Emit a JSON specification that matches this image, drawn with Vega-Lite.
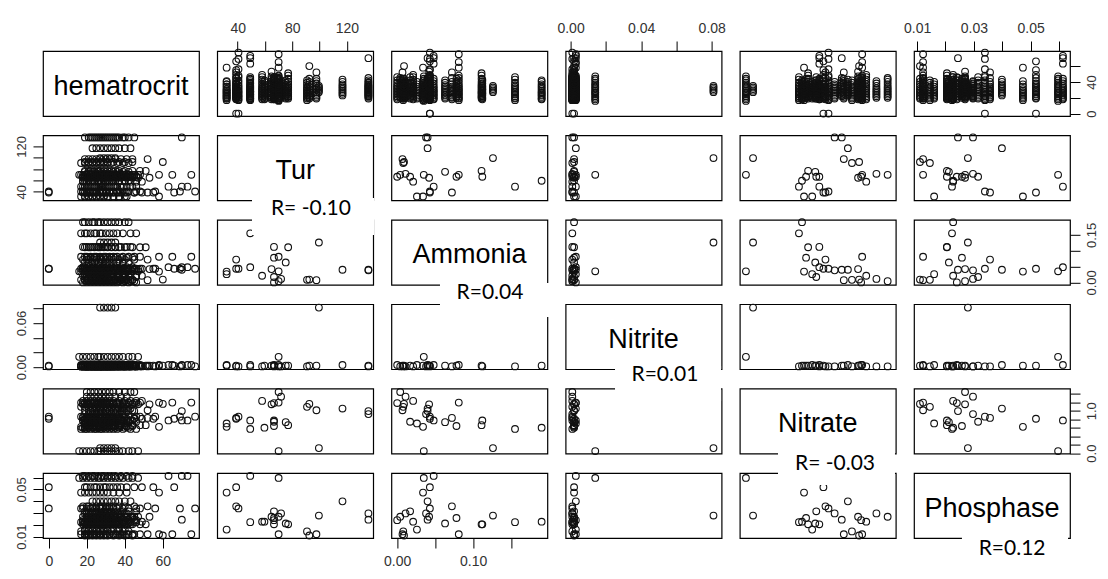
{
"$schema": "https://vega.github.io/schema/vega-lite/v6.json",
"background": "white",
"padding": {"left": 14, "top": 20, "right": 5, "bottom": 5},
"datasets": {"d": [
{"t":59.6,"a":0.190,"n":0.002,"o":0.60,"p":0.0227,"h":[18,19,21,23,24,26,27,29,31,33,35,37,40,42]},
{"t":49.2,"a":0.155,"n":0.001,"o":0.57,"p":0.0223,"h":[17,19,20,22,24,25,27,28,30,32,34,36,39,43,46]},
{"t":99.5,"a":0.126,"n":0.081,"o":0.12,"p":0.0279,"h":[27,29,31,33,35]},
{"t":77.0,"a":0.111,"n":0.002,"o":0.66,"p":0.0205,"h":[19,21,22,24,26,27,29,31,33,35,37,40,44,48,51]},
{"t":66.6,"a":0.112,"n":0.001,"o":0.77,"p":0.0205,"h":[18,20,23,25,26,28,30,31,33,35,38,41,43]},
{"t":70.0,"a":0.081,"n":0.003,"o":1.19,"p":0.0121,"h":[17,19,20,22,24,25,27,29,30,32,34,36,39,42,45,48,58,65,75]},
{"t":66.6,"a":0.078,"n":0.002,"o":0.64,"p":0.0258,"h":[20,22,24,25,27,29,31,33,35,38,41,44]},
{"t":38.9,"a":0.072,"n":0.001,"o":0.83,"p":0.0357,"h":[18,20,21,23,25,27,28,30,32,34,37,40,45,52]},
{"t":75.2,"a":0.063,"n":0.002,"o":0.73,"p":0.0212,"h":[19,21,23,24,26,28,30,32,34,36,39,42]},
{"t":49.2,"a":0.048,"n":0.003,"o":0.77,"p":0.0614,"h":[18,19,21,23,24,26,28,29,31,33,35,38,41,44,63,70,73]},
{"t":38.9,"a":0.043,"n":0.002,"o":0.81,"p":0.0519,"h":[0,19,20,22,24,25,27,29,30,32,34,36,38,41,45,49,55,66]},
{"t":40.6,"a":0.043,"n":0.001,"o":0.86,"p":0.0339,"h":[0,17,18,20,22,23,25,27,28,30,32,34,36,39,42,46,48,56,69,77]},
{"t":135.8,"a":0.040,"n":0.002,"o":0.99,"p":0.0244,"h":[22,24,26,28,30,32,34,36,39,42,45,70]},
{"t":116.8,"a":0.040,"n":0.003,"o":1.05,"p":0.0399,"h":[23,25,27,29,31,33,35,37,40,43]},
{"t":64.8,"a":0.042,"n":0.002,"o":1.15,"p":0.0269,"h":[18,20,21,23,25,26,28,30,32,34,36,38,41,44,47,53]},
{"t":135.8,"a":0.038,"n":0.001,"o":0.92,"p":0.0297,"h":[19,21,23,25,27,29,31,33,35,37,40]},
{"t":70.0,"a":0.035,"n":0.014,"o":0.05,"p":0.0597,"h":[16,18,20,22,24,26,27,29,31,33,35,37,39,42,44,47]},
{"t":31.9,"a":0.034,"n":0.002,"o":0.62,"p":0.0473,"h":[17,19,21,23,25,27,29,31,34,37,41,58]},
{"t":31.9,"a":0.026,"n":0.003,"o":0.70,"p":0.0160,"h":[19,21,23,25,27,29,31,34,37,40]},
{"t":57.9,"a":0.021,"n":0.001,"o":1.23,"p":0.0227,"h":[18,20,22,24,26,28,30,32,34,37,40,43,46,49]},
{"t":66.6,"a":0.017,"n":0.002,"o":0.74,"p":0.0315,"h":[19,21,23,25,27,29,31,33,36,39,42,46]},
{"t":71.8,"a":0.011,"n":0.001,"o":1.33,"p":0.0297,"h":[20,22,24,26,28,30,32,35,38,41]},
{"t":97.7,"a":0.007,"n":0.002,"o":1.01,"p":0.0121,"h":[19,21,23,25,27,30,32,35,38,41,44,52]},
{"t":90.8,"a":0.008,"n":0.001,"o":1.09,"p":0.0145,"h":[17,19,21,23,25,27,29,31,33,36,39,42]},
{"t":66.6,"a":0.000,"n":0.003,"o":1.18,"p":0.0240,"h":[18,20,22,24,26,28,30,32,34,36,39,42,46]},
{"t":70.0,"a":0.004,"n":0.001,"o":1.44,"p":0.0269,"h":[20,22,24,26,28,30,32,34,37,40,43,45]},
{"t":92.5,"a":0.009,"n":0.002,"o":1.16,"p":0.0110,"h":[19,21,23,25,27,29,31,34,37,40,44,60]}
]},
"columns": 6,
"spacing": {"row": 19.4, "column": 18.2},
"bounds": "flush",
"concat": [
{"width":156,"height":65,"data":{"values":[{"v":"hematrocrit"}]},"mark":{"type":"text","font":"Liberation Sans","fontSize":27,"color":"#000","dy":3},"encoding":{"x":{"datum":0.5,"type":"quantitative","scale":{"domain":[0,1],"nice":false,"zero":false},"axis":null},"y":{"datum":0.5,"type":"quantitative","scale":{"domain":[0,1],"nice":false,"zero":false},"axis":null},"text":{"field":"v"}}},
{"width":156,"height":65,"data":{"name":"d"},"transform":[{"flatten":["h"]}],"mark":"point","encoding":{"x":{"field":"t","type":"quantitative","scale":{"domain":[25,139.3],"nice":false,"zero":false},"axis":{"orient":"top","title":null,"values":[40,60,80,100,120],"labelExpr":"indexof([40,80,120],datum.value)>=0?datum.label:''"}},"y":{"field":"h","type":"quantitative","scale":{"domain":[-3.04,79.04],"nice":false,"zero":false},"axis":null}}},
{"width":156,"height":65,"data":{"name":"d"},"transform":[{"flatten":["h"]}],"mark":"point","encoding":{"x":{"field":"a","type":"quantitative","scale":{"domain":[-0.0076,0.1976],"nice":false,"zero":false},"axis":null},"y":{"field":"h","type":"quantitative","scale":{"domain":[-3.04,79.04],"nice":false,"zero":false},"axis":null}}},
{"width":156,"height":65,"data":{"name":"d"},"transform":[{"flatten":["h"]}],"mark":"point","encoding":{"x":{"field":"n","type":"quantitative","scale":{"domain":[-0.0028,0.0856],"nice":false,"zero":false},"axis":{"orient":"top","title":null,"format":".2f","values":[0,0.02,0.04,0.06,0.08],"labelExpr":"indexof([0,0.04,0.08],datum.value)>=0?datum.label:''"}},"y":{"field":"h","type":"quantitative","scale":{"domain":[-3.04,79.04],"nice":false,"zero":false},"axis":null}}},
{"width":156,"height":65,"data":{"name":"d"},"transform":[{"flatten":["h"]}],"mark":"point","encoding":{"x":{"field":"o","type":"quantitative","scale":{"domain":[-0.01,1.52],"nice":false,"zero":false},"axis":null},"y":{"field":"h","type":"quantitative","scale":{"domain":[-3.04,79.04],"nice":false,"zero":false},"axis":null}}},
{"width":156,"height":65,"data":{"name":"d"},"transform":[{"flatten":["h"]}],"mark":"point","encoding":{"x":{"field":"p","type":"quantitative","scale":{"domain":[0.0089,0.0639],"nice":false,"zero":false},"axis":{"orient":"top","title":null,"format":".2f","values":[0.01,0.02,0.03,0.04,0.05,0.06],"labelExpr":"indexof([0.01,0.03,0.05],datum.value)>=0?datum.label:''"}},"y":{"field":"h","type":"quantitative","scale":{"domain":[-3.04,79.04],"nice":false,"zero":false},"axis":{"orient":"right","title":null,"values":[0,20,40,60],"labelExpr":"indexof([0,40],datum.value)>=0?datum.label:''"}}}},

{"width":156,"height":65,"data":{"name":"d"},"transform":[{"flatten":["h"]}],"mark":"point","encoding":{"x":{"field":"h","type":"quantitative","scale":{"domain":[-3.04,79.04],"nice":false,"zero":false},"axis":null},"y":{"field":"t","type":"quantitative","scale":{"domain":[25,139.3],"nice":false,"zero":false},"axis":{"orient":"left","title":null,"values":[40,60,80,100,120],"labelExpr":"indexof([40,120],datum.value)>=0?datum.label:''"}}}},
{"width":156,"height":65,"data":{"values":[{"v":"Tur"}]},"mark":{"type":"text","font":"Liberation Sans","fontSize":27,"color":"#000","dy":3},"encoding":{"x":{"datum":0.5,"type":"quantitative","scale":{"domain":[0,1],"nice":false,"zero":false},"axis":null},"y":{"datum":0.5,"type":"quantitative","scale":{"domain":[0,1],"nice":false,"zero":false},"axis":null},"text":{"field":"v"}}},
{"width":156,"height":65,"data":{"name":"d"},"mark":"point","encoding":{"x":{"field":"a","type":"quantitative","scale":{"domain":[-0.0076,0.1976],"nice":false,"zero":false},"axis":null},"y":{"field":"t","type":"quantitative","scale":{"domain":[25,139.3],"nice":false,"zero":false},"axis":null}}},
{"width":156,"height":65,"data":{"name":"d"},"mark":"point","encoding":{"x":{"field":"n","type":"quantitative","scale":{"domain":[-0.0028,0.0856],"nice":false,"zero":false},"axis":null},"y":{"field":"t","type":"quantitative","scale":{"domain":[25,139.3],"nice":false,"zero":false},"axis":null}}},
{"width":156,"height":65,"data":{"name":"d"},"mark":"point","encoding":{"x":{"field":"o","type":"quantitative","scale":{"domain":[-0.01,1.52],"nice":false,"zero":false},"axis":null},"y":{"field":"t","type":"quantitative","scale":{"domain":[25,139.3],"nice":false,"zero":false},"axis":null}}},
{"width":156,"height":65,"data":{"name":"d"},"mark":"point","encoding":{"x":{"field":"p","type":"quantitative","scale":{"domain":[0.0089,0.0639],"nice":false,"zero":false},"axis":null},"y":{"field":"t","type":"quantitative","scale":{"domain":[25,139.3],"nice":false,"zero":false},"axis":null}}},

{"width":156,"height":65,"data":{"name":"d"},"transform":[{"flatten":["h"]}],"mark":"point","encoding":{"x":{"field":"h","type":"quantitative","scale":{"domain":[-3.04,79.04],"nice":false,"zero":false},"axis":null},"y":{"field":"a","type":"quantitative","scale":{"domain":[-0.0076,0.1976],"nice":false,"zero":false},"axis":null}}},
{"width":156,"height":65,"layer":[
 {"data":{"name":"d"},"mark":"point","encoding":{"x":{"field":"t","type":"quantitative","scale":{"domain":[25,139.3],"nice":false,"zero":false},"axis":null},"y":{"field":"a","type":"quantitative","scale":{"domain":[-0.0076,0.1976],"nice":false,"zero":false},"axis":null}}},
 {"data":{"values":[{"r":"R= -0.10"}]},"mark":{"type":"rect","fill":"white","strokeWidth":0},"encoding":{"x":{"datum":50.5,"scale":{"domain":[25,139.3],"nice":false,"zero":false},"axis":null},"x2":{"datum":139.9},"y":{"datum":0.2664,"scale":{"domain":[-0.0076,0.1976],"nice":false,"zero":false},"axis":null},"y2":{"datum":0.1496}}},
 {"data":{"values":[{"r":"R= -0.10"}]},"mark":{"type":"text","font":"Lato","fontSize":21,"color":"#000"},"encoding":{"x":{"datum":93.7,"scale":{"domain":[25,139.3],"nice":false,"zero":false},"axis":null},"y":{"datum":0.2317,"scale":{"domain":[-0.0076,0.1976],"nice":false,"zero":false},"axis":null},"text":{"field":"r"}}}
]},
{"width":156,"height":65,"data":{"values":[{"v":"Ammonia"}]},"mark":{"type":"text","font":"Liberation Sans","fontSize":27,"color":"#000","dy":3},"encoding":{"x":{"datum":0.5,"type":"quantitative","scale":{"domain":[0,1],"nice":false,"zero":false},"axis":null},"y":{"datum":0.5,"type":"quantitative","scale":{"domain":[0,1],"nice":false,"zero":false},"axis":null},"text":{"field":"v"}}},
{"width":156,"height":65,"data":{"name":"d"},"mark":"point","encoding":{"x":{"field":"n","type":"quantitative","scale":{"domain":[-0.0028,0.0856],"nice":false,"zero":false},"axis":null},"y":{"field":"a","type":"quantitative","scale":{"domain":[-0.0076,0.1976],"nice":false,"zero":false},"axis":null}}},
{"width":156,"height":65,"data":{"name":"d"},"mark":"point","encoding":{"x":{"field":"o","type":"quantitative","scale":{"domain":[-0.01,1.52],"nice":false,"zero":false},"axis":null},"y":{"field":"a","type":"quantitative","scale":{"domain":[-0.0076,0.1976],"nice":false,"zero":false},"axis":null}}},
{"width":156,"height":65,"data":{"name":"d"},"mark":"point","encoding":{"x":{"field":"p","type":"quantitative","scale":{"domain":[0.0089,0.0639],"nice":false,"zero":false},"axis":null},"y":{"field":"a","type":"quantitative","scale":{"domain":[-0.0076,0.1976],"nice":false,"zero":false},"axis":{"orient":"right","title":null,"format":".2f","values":[0,0.05,0.1,0.15],"labelExpr":"indexof([0,0.15],datum.value)>=0?datum.label:''"}}}},

{"width":156,"height":65,"data":{"name":"d"},"transform":[{"flatten":["h"]}],"mark":"point","encoding":{"x":{"field":"h","type":"quantitative","scale":{"domain":[-3.04,79.04],"nice":false,"zero":false},"axis":null},"y":{"field":"n","type":"quantitative","scale":{"domain":[-0.0028,0.0856],"nice":false,"zero":false},"axis":{"orient":"left","title":null,"format":".2f","values":[0,0.02,0.04,0.06,0.08],"labelExpr":"indexof([0,0.06],datum.value)>=0?datum.label:''"}}}},
{"width":156,"height":65,"data":{"name":"d"},"mark":"point","encoding":{"x":{"field":"t","type":"quantitative","scale":{"domain":[25,139.3],"nice":false,"zero":false},"axis":null},"y":{"field":"n","type":"quantitative","scale":{"domain":[-0.0028,0.0856],"nice":false,"zero":false},"axis":null}}},
{"width":156,"height":65,"layer":[
 {"data":{"name":"d"},"mark":"point","encoding":{"x":{"field":"a","type":"quantitative","scale":{"domain":[-0.0076,0.1976],"nice":false,"zero":false},"axis":null},"y":{"field":"n","type":"quantitative","scale":{"domain":[-0.0028,0.0856],"nice":false,"zero":false},"axis":null}}},
 {"data":{"values":[{"r":"R=0.04"}]},"mark":{"type":"rect","fill":"white","strokeWidth":0},"encoding":{"x":{"datum":0.0563,"scale":{"domain":[-0.0076,0.1976],"nice":false,"zero":false},"axis":null},"x2":{"datum":0.2},"y":{"datum":0.1144,"scale":{"domain":[-0.0028,0.0856],"nice":false,"zero":false},"axis":null},"y2":{"datum":0.0682}}},
 {"data":{"values":[{"r":"R=0.04"}]},"mark":{"type":"text","font":"Lato","fontSize":21,"color":"#000"},"encoding":{"x":{"datum":0.1221,"scale":{"domain":[-0.0076,0.1976],"nice":false,"zero":false},"axis":null},"y":{"datum":0.1008,"scale":{"domain":[-0.0028,0.0856],"nice":false,"zero":false},"axis":null},"text":{"field":"r"}}}
]},
{"width":156,"height":65,"data":{"values":[{"v":"Nitrite"}]},"mark":{"type":"text","font":"Liberation Sans","fontSize":27,"color":"#000","dy":3},"encoding":{"x":{"datum":0.5,"type":"quantitative","scale":{"domain":[0,1],"nice":false,"zero":false},"axis":null},"y":{"datum":0.5,"type":"quantitative","scale":{"domain":[0,1],"nice":false,"zero":false},"axis":null},"text":{"field":"v"}}},
{"width":156,"height":65,"data":{"name":"d"},"mark":"point","encoding":{"x":{"field":"o","type":"quantitative","scale":{"domain":[-0.01,1.52],"nice":false,"zero":false},"axis":null},"y":{"field":"n","type":"quantitative","scale":{"domain":[-0.0028,0.0856],"nice":false,"zero":false},"axis":null}}},
{"width":156,"height":65,"data":{"name":"d"},"mark":"point","encoding":{"x":{"field":"p","type":"quantitative","scale":{"domain":[0.0089,0.0639],"nice":false,"zero":false},"axis":null},"y":{"field":"n","type":"quantitative","scale":{"domain":[-0.0028,0.0856],"nice":false,"zero":false},"axis":null}}},

{"width":156,"height":65,"data":{"name":"d"},"transform":[{"flatten":["h"]}],"mark":"point","encoding":{"x":{"field":"h","type":"quantitative","scale":{"domain":[-3.04,79.04],"nice":false,"zero":false},"axis":null},"y":{"field":"o","type":"quantitative","scale":{"domain":[-0.01,1.52],"nice":false,"zero":false},"axis":null}}},
{"width":156,"height":65,"data":{"name":"d"},"mark":"point","encoding":{"x":{"field":"t","type":"quantitative","scale":{"domain":[25,139.3],"nice":false,"zero":false},"axis":null},"y":{"field":"o","type":"quantitative","scale":{"domain":[-0.01,1.52],"nice":false,"zero":false},"axis":null}}},
{"width":156,"height":65,"data":{"name":"d"},"mark":"point","encoding":{"x":{"field":"a","type":"quantitative","scale":{"domain":[-0.0076,0.1976],"nice":false,"zero":false},"axis":null},"y":{"field":"o","type":"quantitative","scale":{"domain":[-0.01,1.52],"nice":false,"zero":false},"axis":null}}},
{"width":156,"height":65,"layer":[
 {"data":{"name":"d"},"mark":"point","encoding":{"x":{"field":"n","type":"quantitative","scale":{"domain":[-0.0028,0.0856],"nice":false,"zero":false},"axis":null},"y":{"field":"o","type":"quantitative","scale":{"domain":[-0.01,1.52],"nice":false,"zero":false},"axis":null}}},
 {"data":{"values":[{"r":"R=0.01"}]},"mark":{"type":"rect","fill":"white","strokeWidth":0},"encoding":{"x":{"datum":0.0252,"scale":{"domain":[-0.0028,0.0856],"nice":false,"zero":false},"axis":null},"x2":{"datum":0.0853},"y":{"datum":2.052,"scale":{"domain":[-0.01,1.52],"nice":false,"zero":false},"axis":null},"y2":{"datum":1.228}}},
 {"data":{"values":[{"r":"R=0.01"}]},"mark":{"type":"text","font":"Lato","fontSize":21,"color":"#000"},"encoding":{"x":{"datum":0.0535,"scale":{"domain":[-0.0028,0.0856],"nice":false,"zero":false},"axis":null},"y":{"datum":1.84,"scale":{"domain":[-0.01,1.52],"nice":false,"zero":false},"axis":null},"text":{"field":"r"}}}
]},
{"width":156,"height":65,"data":{"values":[{"v":"Nitrate"}]},"mark":{"type":"text","font":"Liberation Sans","fontSize":27,"color":"#000","dy":3},"encoding":{"x":{"datum":0.5,"type":"quantitative","scale":{"domain":[0,1],"nice":false,"zero":false},"axis":null},"y":{"datum":0.5,"type":"quantitative","scale":{"domain":[0,1],"nice":false,"zero":false},"axis":null},"text":{"field":"v"}}},
{"width":156,"height":65,"data":{"name":"d"},"mark":"point","encoding":{"x":{"field":"p","type":"quantitative","scale":{"domain":[0.0089,0.0639],"nice":false,"zero":false},"axis":null},"y":{"field":"o","type":"quantitative","scale":{"domain":[-0.01,1.52],"nice":false,"zero":false},"axis":{"orient":"right","title":null,"format":".1f","values":[0,0.2,0.4,0.6,0.8,1,1.2,1.4],"labelExpr":"indexof([0,1],datum.value)>=0?datum.label:''"}}}},

{"width":156,"height":65,"data":{"name":"d"},"transform":[{"flatten":["h"]}],"mark":"point","encoding":{"x":{"field":"h","type":"quantitative","scale":{"domain":[-3.04,79.04],"nice":false,"zero":false},"axis":{"orient":"bottom","title":null,"values":[0,20,40,60]}},"y":{"field":"p","type":"quantitative","scale":{"domain":[0.0089,0.0639],"nice":false,"zero":false},"axis":{"orient":"left","title":null,"format":".2f","values":[0.01,0.02,0.03,0.04,0.05,0.06],"labelExpr":"indexof([0.01,0.05],datum.value)>=0?datum.label:''"}}}},
{"width":156,"height":65,"data":{"name":"d"},"mark":"point","encoding":{"x":{"field":"t","type":"quantitative","scale":{"domain":[25,139.3],"nice":false,"zero":false},"axis":null},"y":{"field":"p","type":"quantitative","scale":{"domain":[0.0089,0.0639],"nice":false,"zero":false},"axis":null}}},
{"width":156,"height":65,"data":{"name":"d"},"mark":"point","encoding":{"x":{"field":"a","type":"quantitative","scale":{"domain":[-0.0076,0.1976],"nice":false,"zero":false},"axis":{"orient":"bottom","title":null,"format":".2f","values":[0,0.05,0.1,0.15],"labelExpr":"indexof([0,0.1],datum.value)>=0?datum.label:''"}},"y":{"field":"p","type":"quantitative","scale":{"domain":[0.0089,0.0639],"nice":false,"zero":false},"axis":null}}},
{"width":156,"height":65,"data":{"name":"d"},"mark":"point","encoding":{"x":{"field":"n","type":"quantitative","scale":{"domain":[-0.0028,0.0856],"nice":false,"zero":false},"axis":null},"y":{"field":"p","type":"quantitative","scale":{"domain":[0.0089,0.0639],"nice":false,"zero":false},"axis":null}}},
{"width":156,"height":65,"layer":[
 {"data":{"name":"d"},"mark":"point","encoding":{"x":{"field":"o","type":"quantitative","scale":{"domain":[-0.01,1.52],"nice":false,"zero":false},"axis":{"orient":"bottom","title":null,"format":".1f","values":[0,0.2,0.4,0.6,0.8,1,1.2,1.4],"labelExpr":"indexof([0,0.4,0.8,1.2],datum.value)>=0?datum.label:''"}},"y":{"field":"p","type":"quantitative","scale":{"domain":[0.0089,0.0639],"nice":false,"zero":false},"axis":null}}},
 {"data":{"values":[{"r":"R= -0.03"}]},"mark":{"type":"rect","fill":"white","strokeWidth":0},"encoding":{"x":{"datum":0.3647,"scale":{"domain":[-0.01,1.52],"nice":false,"zero":false},"axis":null},"x2":{"datum":1.512},"y":{"datum":0.0825,"scale":{"domain":[0.0089,0.0639],"nice":false,"zero":false},"axis":null},"y2":{"datum":0.0538}}},
 {"data":{"values":[{"r":"R= -0.03"}]},"mark":{"type":"text","font":"Lato","fontSize":21,"color":"#000"},"encoding":{"x":{"datum":0.9237,"scale":{"domain":[-0.01,1.52],"nice":false,"zero":false},"axis":null},"y":{"datum":0.0715,"scale":{"domain":[0.0089,0.0639],"nice":false,"zero":false},"axis":null},"text":{"field":"r"}}}
]},
{"width":156,"height":65,"layer":[
 {"data":{"values":[{"v":"Phosphase"}]},"mark":{"type":"text","font":"Liberation Sans","fontSize":27,"color":"#000","dy":3},"encoding":{"x":{"datum":0.0364,"scale":{"domain":[0.0089,0.0639],"nice":false,"zero":false},"axis":null},"y":{"datum":0.0364,"scale":{"domain":[0.0089,0.0639],"nice":false,"zero":false},"axis":null},"text":{"field":"v"}}},
 {"data":{"values":[{"r":"R=0.12"}]},"mark":{"type":"rect","fill":"white","strokeWidth":0},"encoding":{"x":{"datum":0.0258,"scale":{"domain":[0.0089,0.0639],"nice":false,"zero":false},"axis":null},"x2":{"datum":0.0632},"y":{"datum":0.0106,"scale":{"domain":[0.0089,0.0639],"nice":false,"zero":false},"axis":null},"y2":{"datum":-0.0089}}},
 {"data":{"values":[{"r":"R=0.12"}]},"mark":{"type":"text","font":"Lato","fontSize":21,"color":"#000"},"encoding":{"x":{"datum":0.0435,"scale":{"domain":[0.0089,0.0639],"nice":false,"zero":false},"axis":null},"y":{"datum":-0.0004,"scale":{"domain":[0.0089,0.0639],"nice":false,"zero":false},"axis":null},"text":{"field":"r"}}}
]}
],
"config": {
 "view": {"stroke": "#000", "strokeWidth": 1.2},
 "point": {"shape": "circle", "filled": false, "size": 45, "strokeWidth": 1.1, "color": "#111", "opacity": 1},
 "axis": {"domain": false, "grid": false, "ticks": true, "tickColor": "#000", "tickSize": 10, "tickWidth": 1, "labelFont": "Liberation Sans", "labelFontSize": 14, "labelColor": "#333", "labelPadding": 6, "labelFlush": false, "labelOverlap": false, "labelBound": false},
 "axisLeft": {"labelAngle": -90, "labelAlign": "center", "labelBaseline": "bottom", "labelFontSize": 13, "labelPadding": 5},
 "axisRight": {"labelAngle": -90, "labelAlign": "center", "labelBaseline": "top", "labelFontSize": 13, "labelPadding": 5}
}
}
